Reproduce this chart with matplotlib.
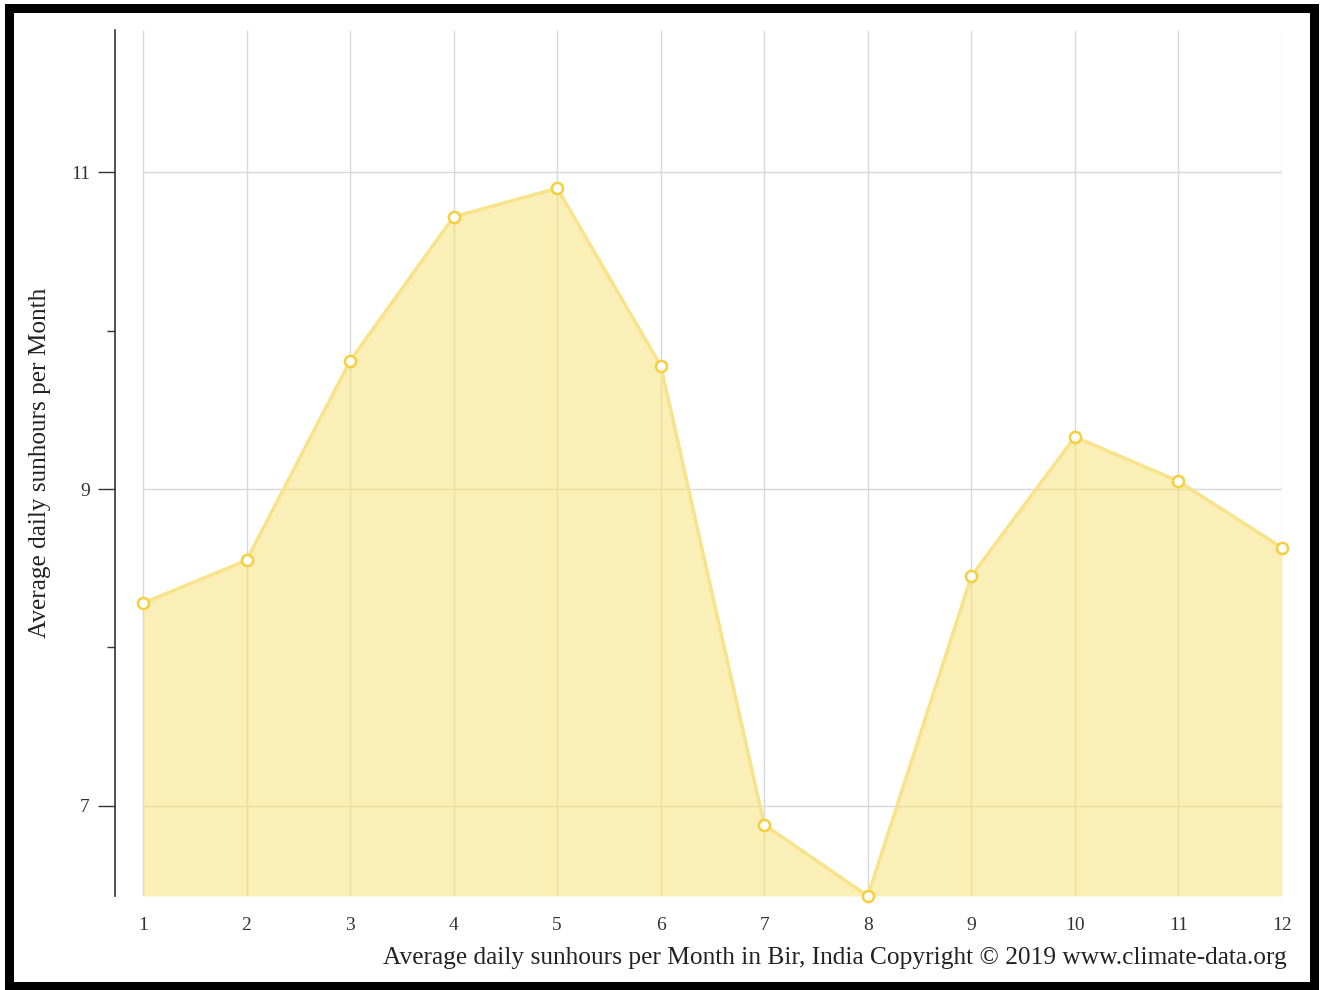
import matplotlib
matplotlib.use("Agg")
import matplotlib.pyplot as plt
from matplotlib.patches import Rectangle

months = [1, 2, 3, 4, 5, 6, 7, 8, 9, 10, 11, 12]
sunhours = [8.28, 8.55, 9.81, 10.72, 10.9, 9.78, 6.88, 6.43, 8.45, 9.33, 9.05, 8.63]
y_major = [7, 9, 11]
y_minor = [8, 10]
y_min, y_max = 6.43, 11.9

plt.rcParams['font.family'] = ['Liberation Serif', 'DejaVu Serif']

fig = plt.figure(figsize=(13.25, 9.9), dpi=100)
fig.patch.set_facecolor('white')
ax = fig.add_axes([115/1325, 1-896/990, (1282-115)/1325, (896-30)/990])

ax.set_xlim(months[0] - 28/1139*11, months[-1])
ax.set_ylim(y_min, y_max)

grid_c = '#d8d8d8'
ax.vlines(months, y_min, y_max, colors=grid_c, linewidth=1.0, zorder=1)
ax.hlines(y_major, months[0], months[-1], colors=grid_c, linewidth=1.0, zorder=1)

ax.fill_between(months, sunhours, y_min, color='#f7e27a', alpha=0.55, linewidth=0, zorder=2)
ax.plot(months, sunhours, color='#f9e38a', linewidth=2.5, zorder=3)
ax.plot(months, sunhours, linestyle='none', marker='o', markersize=8,
        markerfacecolor='white', markeredgecolor='#f5cf3c', markeredgewidth=1.8,
        zorder=4, clip_on=False)

for s in ['top', 'right', 'bottom']:
    ax.spines[s].set_visible(False)
ax.spines['left'].set_color('#333333')
ax.spines['left'].set_linewidth(1.2)

ax.set_yticks(y_major)
ax.set_yticks(y_minor, minor=True)
ax.set_yticklabels([str(v) for v in y_major], fontsize=14, color='#333333')
ax.tick_params(axis='y', which='major', length=12, width=1, color='#333333', pad=6)
ax.tick_params(axis='y', which='minor', length=6, width=1, color='#333333')
ax.set_xticks(months)
ax.set_xticklabels([str(m) for m in months], fontsize=14, color='#333333')
ax.tick_params(axis='x', length=0, pad=15)

fig.text(40/1325, 1-463/990, 'Average daily sunhours per Month', rotation=90,
         ha='center', va='center', fontsize=18.2, color='#222222')
fig.text(1287/1325, 1-958/990,
         'Average daily sunhours per Month in Bir, India Copyright \u00a9 2019 www.climate-data.org',
         ha='right', va='center', fontsize=18.3, color='#222222')

fig.patches.append(Rectangle((9/1325, 4/990), 1305/1325, 978/990, transform=fig.transFigure,
                             fill=False, edgecolor='black', linewidth=6.5, zorder=10))

fig.savefig('out.png', dpi=100)
